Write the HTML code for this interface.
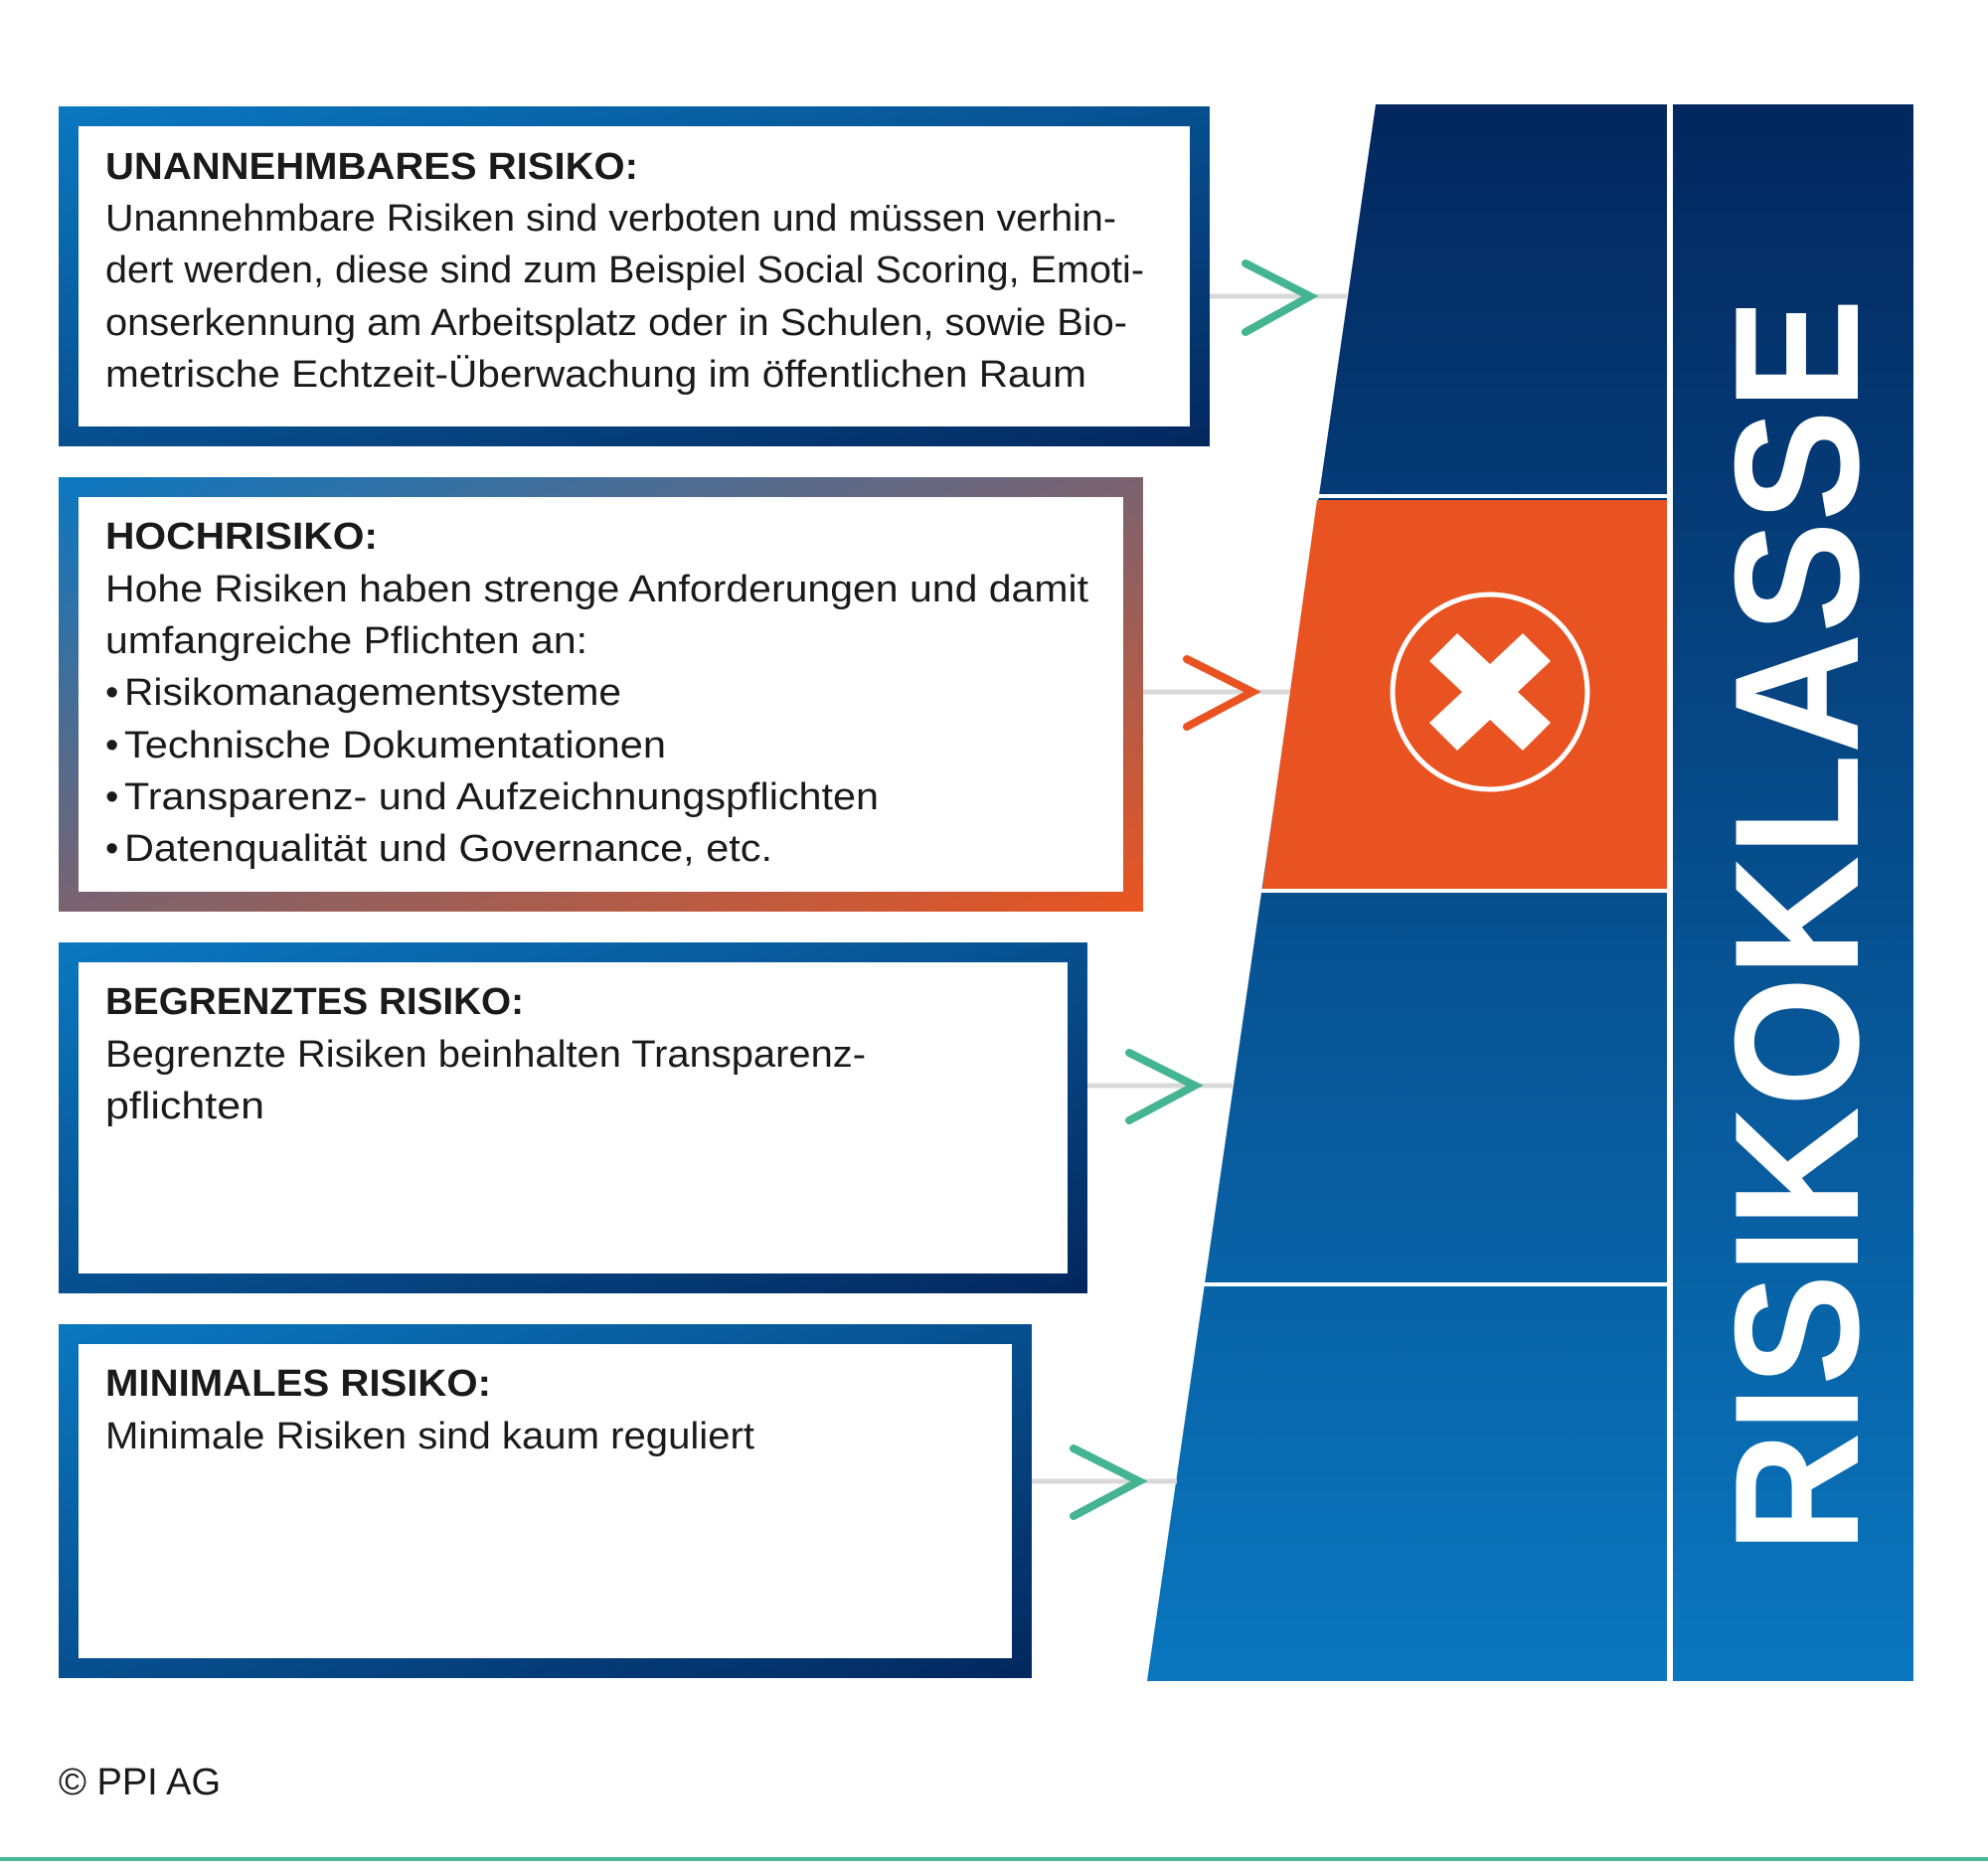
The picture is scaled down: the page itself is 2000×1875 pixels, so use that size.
<!DOCTYPE html>
<html><head><meta charset="utf-8"><style>html,body{margin:0;padding:0;background:#fff}svg{display:block}</style></head><body>
<svg width="2000" height="1875" viewBox="0 0 2000 1875" xmlns="http://www.w3.org/2000/svg" font-family="'Liberation Sans', 'DejaVu Sans', sans-serif">
<defs>
<linearGradient id="gb" x1="0" y1="0" x2="1" y2="1"><stop offset="0" stop-color="#0b78c0"/><stop offset="1" stop-color="#03275e"/></linearGradient>
<linearGradient id="go" x1="0" y1="0" x2="1" y2="1"><stop offset="0" stop-color="#0b78c0"/><stop offset="0.5" stop-color="#7a6370"/><stop offset="1" stop-color="#ea5520"/></linearGradient>
<linearGradient id="gv" x1="0" y1="0" x2="0" y2="1"><stop offset="0" stop-color="#03275e"/><stop offset="1" stop-color="#0a77bf"/></linearGradient>
<linearGradient id="gt" gradientUnits="userSpaceOnUse" x1="0" y1="105" x2="0" y2="1691"><stop offset="0" stop-color="#03275e"/><stop offset="1" stop-color="#0a77bf"/></linearGradient>
</defs>
<rect width="2000" height="1875" fill="#fff"/>
<!-- boxes -->
<rect x="59" y="107" width="1158" height="342" fill="url(#gb)"/><rect x="79" y="127" width="1118" height="302" fill="#fff"/>
<rect x="59" y="480" width="1091" height="437" fill="url(#go)"/><rect x="79" y="500" width="1051" height="397" fill="#fff"/>
<rect x="59" y="948" width="1035" height="353" fill="url(#gb)"/><rect x="79" y="968" width="995" height="313" fill="#fff"/>
<rect x="59" y="1332" width="979" height="356" fill="url(#gb)"/><rect x="79" y="1352" width="939" height="316" fill="#fff"/>
<!-- trapezoid -->
<polygon points="1384,105 1677,105 1677,1691 1154,1691" fill="url(#gt)"/>
<polygon points="1325,503 1677,503 1677,894 1270,894" fill="#e85321"/>
<g stroke="#fff" stroke-width="4"><line x1="1300" y1="499" x2="1680" y2="499"/><line x1="1250" y1="896" x2="1680" y2="896"/><line x1="1200" y1="1292" x2="1680" y2="1292"/></g>
<rect x="1683" y="105" width="242" height="1586" fill="url(#gv)"/>
<circle cx="1499" cy="696" r="98" fill="none" stroke="#fff" stroke-width="5"/>
<polygon points="1466,637 1499,668 1532,637 1560,665 1527,696 1560,727 1532,755 1499,724 1466,755 1438,727 1471,696 1438,665" fill="#fff"/>
<text transform="translate(1869,1562) rotate(-90)" font-size="178" font-weight="bold" fill="#fff" textLength="1262" lengthAdjust="spacingAndGlyphs">RISIKOKLASSE</text>
<!-- connectors -->
<g stroke="#d9d9d9" stroke-width="5"><line x1="1217" y1="298" x2="1355" y2="298"/><line x1="1150" y1="696" x2="1298" y2="696"/><line x1="1094" y1="1092" x2="1240" y2="1092"/><line x1="1038" y1="1490" x2="1184" y2="1490"/></g>
<g fill="none" stroke-width="8" stroke-linecap="round" stroke-linejoin="miter">
<polyline points="1253,265 1318,298 1253,334" stroke="#45b591"/>
<polyline points="1194,663 1260,696 1194,731" stroke="#e85321"/>
<polyline points="1136,1059 1202,1092 1136,1127" stroke="#45b591"/>
<polyline points="1080,1457 1146,1490 1080,1525" stroke="#45b591"/>
</g>
<!-- text -->
<g font-size="38" fill="#1a1a1a" lengthAdjust="spacingAndGlyphs">
<text x="106" y="180" font-weight="bold" textLength="536" lengthAdjust="spacingAndGlyphs">UNANNEHMBARES RISIKO:</text>
<text x="106" y="232" textLength="1017" lengthAdjust="spacingAndGlyphs">Unannehmbare Risiken sind verboten und müssen verhin-</text>
<text x="106" y="284" textLength="1045" lengthAdjust="spacingAndGlyphs">dert werden, diese sind zum Beispiel Social Scoring, Emoti-</text>
<text x="106" y="337" textLength="1028" lengthAdjust="spacingAndGlyphs">onserkennung am Arbeitsplatz oder in Schulen, sowie Bio-</text>
<text x="106" y="389" textLength="987" lengthAdjust="spacingAndGlyphs">metrische Echtzeit-Überwachung im öffentlichen Raum</text>

<text x="106" y="552" font-weight="bold" textLength="274" lengthAdjust="spacingAndGlyphs">HOCHRISIKO:</text>
<text x="106" y="605" textLength="989" lengthAdjust="spacingAndGlyphs">Hohe Risiken haben strenge Anforderungen und damit</text>
<text x="106" y="657" textLength="485" lengthAdjust="spacingAndGlyphs">umfangreiche Pflichten an:</text>
<text x="106" y="709">•</text><text x="125" y="709" textLength="500" lengthAdjust="spacingAndGlyphs">Risikomanagementsysteme</text>
<text x="106" y="762">•</text><text x="125" y="762" textLength="545" lengthAdjust="spacingAndGlyphs">Technische Dokumentationen</text>
<text x="106" y="814">•</text><text x="125" y="814" textLength="759" lengthAdjust="spacingAndGlyphs">Transparenz- und Aufzeichnungspflichten</text>
<text x="106" y="866">•</text><text x="125" y="866" textLength="652" lengthAdjust="spacingAndGlyphs">Datenqualität und Governance, etc.</text>

<text x="106" y="1020" font-weight="bold" textLength="421" lengthAdjust="spacingAndGlyphs">BEGRENZTES RISIKO:</text>
<text x="106" y="1073" textLength="765" lengthAdjust="spacingAndGlyphs">Begrenzte Risiken beinhalten Transparenz-</text>
<text x="106" y="1125" textLength="160" lengthAdjust="spacingAndGlyphs">pflichten</text>

<text x="106" y="1404" font-weight="bold" textLength="388" lengthAdjust="spacingAndGlyphs">MINIMALES RISIKO:</text>
<text x="106" y="1457" textLength="653" lengthAdjust="spacingAndGlyphs">Minimale Risiken sind kaum reguliert</text>

<text x="59" y="1805" textLength="163" lengthAdjust="spacingAndGlyphs">© PPI AG</text>
</g>
<rect x="0" y="1868" width="2000" height="4" fill="#4cb89a"/>
</svg>
</body></html>
